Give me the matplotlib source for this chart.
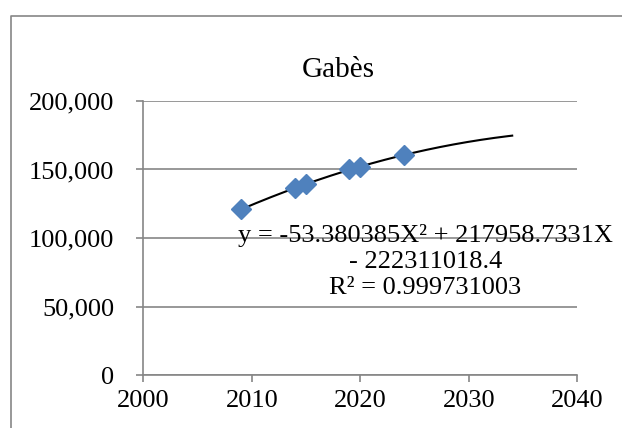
import matplotlib
matplotlib.use("Agg")
import matplotlib.pyplot as plt
import numpy as np
from matplotlib.lines import Line2D
from matplotlib.ticker import FuncFormatter

years = [2009, 2014, 2015, 2019, 2020, 2024]
population = [120900, 136300, 139400, 150100, 152000, 160500]
trend_end = 2034
title = "Gabès"
equation = "y = -53.380385X² + 217958.7331X\n- 222311018.4\nR² = 0.999731003"

plt.rcParams['font.family'] = ['Liberation Serif', 'DejaVu Serif']
grey = "#868686"
blue = "#4F81BD"

fig = plt.figure(figsize=(6.23, 4.28), dpi=100)
ax = fig.add_axes([143.3 / 623, 1 - 375 / 428, (577.3 - 143.3) / 623, (375 - 101) / 428])

# outer chart frame (cut off on the right and bottom)
fx, fy = 11 / 623, 1 - 16 / 428
fig.add_artist(Line2D([fx, fx, 0.999], [0.0, fy, fy], color=grey,
                      linewidth=1.2, solid_capstyle="butt",
                      transform=fig.transFigure))

# polynomial trendline, order 2
fit = np.polynomial.Polynomial.fit(years, population, 2)
xs = np.linspace(years[0], trend_end, 200)
ax.plot(xs, fit(xs), color="black", linewidth=1.5, zorder=3)

ax.plot(years, population, linestyle="none", marker="D", markersize=10,
        color=blue, markeredgecolor=blue, zorder=4)

ax.set_xlim(2000, 2040)
ax.set_ylim(0, 200000)
ax.set_xticks(range(2000, 2041, 10))
ax.set_yticks(range(0, 200001, 50000))
ax.yaxis.set_major_formatter(FuncFormatter(lambda v, p: f"{int(v):,}"))
ax.grid(axis="y", color=grey, linewidth=1.2)
ax.set_axisbelow(True)
for s in ["top", "right"]:
    ax.spines[s].set_visible(False)
for s in ["left", "bottom"]:
    ax.spines[s].set_color(grey)
    ax.spines[s].set_linewidth(1.2)
ax.tick_params(axis="both", color=grey, width=1.2, length=5, labelsize=19,
               labelcolor="black")
ax.tick_params(axis="y", pad=16)
ax.tick_params(axis="x", pad=6)

fig.text(338 / 623, 1 - 70 / 428, title, ha="center", va="center", fontsize=21)

ax.text(2026.0, 83000, equation, ha="center", va="center", fontsize=19,
        linespacing=1.22, zorder=5)

fig.savefig("out.png", dpi=100)
